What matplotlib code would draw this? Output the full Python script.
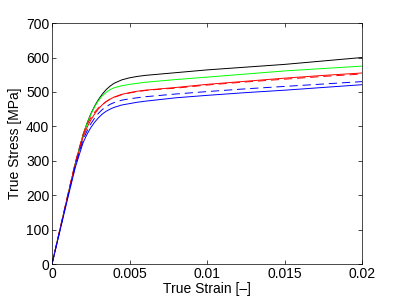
import matplotlib
matplotlib.use('Agg')
import matplotlib.pyplot as plt
from matplotlib.ticker import FixedLocator

plt.rcParams['font.family'] = ['Liberation Sans', 'DejaVu Sans']

# strain points [-]
strain = [0, 0.001, 0.0015, 0.002, 0.00225, 0.0025, 0.00275, 0.003, 0.00325,
          0.0035, 0.00375, 0.004, 0.0045, 0.005, 0.0055, 0.006, 0.007, 0.008,
          0.01, 0.0125, 0.015, 0.0175, 0.02]

# stress [MPa]
black = [0, 195, 292, 375, 408, 436, 459, 478, 494, 507, 517, 525, 535, 541,
         545, 548, 552, 556, 564, 572, 580, 590, 600]
green = [0, 195, 290, 375, 406, 434, 457, 475, 489, 499, 507, 512, 518, 522,
         525, 528, 532, 536, 543, 552, 561, 568, 575]
red = [0, 195, 290, 368, 396, 418, 436, 451, 463, 472, 479, 485, 493, 498,
       502, 505, 509, 513, 522, 531, 540, 548, 555]
red_dash = [0, 198, 295, 376, 404, 425, 441, 454, 464, 472, 479, 484, 492,
            497, 501, 504, 508, 511, 520, 529, 537, 545, 552]
blue_dash = [0, 192, 285, 360, 386, 407, 424, 438, 449, 457, 464, 469, 476,
             480, 483, 486, 490, 494, 501, 509, 516, 523, 530]
blue = [0, 188, 280, 352, 376, 396, 412, 425, 436, 444, 450, 455, 462, 466,
        470, 473, 478, 483, 490, 498, 505, 513, 521]

x_ticks = [0, 0.005, 0.01, 0.015, 0.02]
x_labels = ['0', '0.005', '0.01', '0.015', '0.02']
y_ticks = [0, 100, 200, 300, 400, 500, 600, 700]

fig = plt.figure(figsize=(4, 3), dpi=100)
ax = fig.add_axes([0.13, 0.12, 0.775, 0.803])

dash = (0, (8.5, 5))
ax.plot(strain, black, color='k', lw=0.7)
ax.plot(strain, green, color='#00ff00', lw=0.7)
ax.plot(strain, red, color='r', lw=0.7)
ax.plot(strain, red_dash, color='r', lw=0.7, linestyle=dash)
ax.plot(strain, blue_dash, color='b', lw=0.7, linestyle=dash)
ax.plot(strain, blue, color='b', lw=0.7)

ax.set_xlim(0, 0.02)
ax.set_ylim(0, 700)
ax.xaxis.set_major_locator(FixedLocator(x_ticks))
ax.set_xticklabels(x_labels)
ax.set_yticks(y_ticks)
ax.tick_params(direction='in', length=3, width=0.5, top=True, right=True,
               labelsize=10, pad=2)
for s in ax.spines.values():
    s.set_linewidth(0.5)
ax.set_xlabel('True Strain [\u2013]', fontsize=10, labelpad=1)
ax.set_ylabel('True Stress [MPa]', fontsize=10, labelpad=3)

fig.savefig('out.png', dpi=100)
